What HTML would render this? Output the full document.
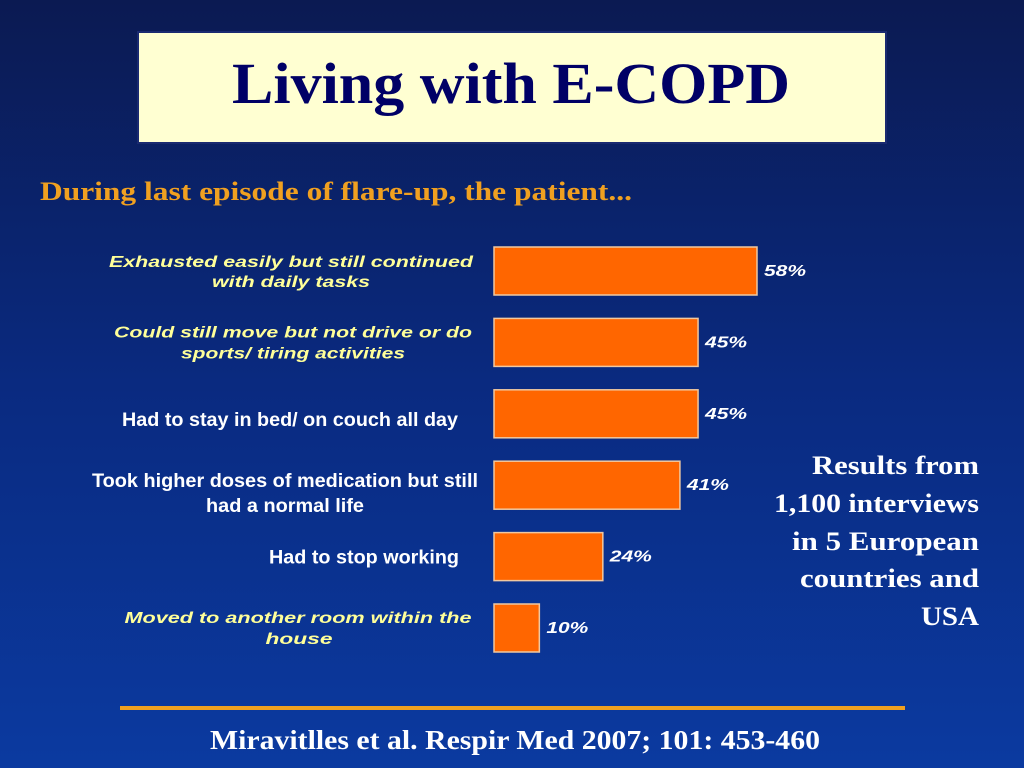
<!DOCTYPE html>
<html><head><meta charset="utf-8"><style>
html,body{margin:0;padding:0;width:1024px;height:768px;overflow:hidden}
svg{display:block}
</style></head><body>
<svg id="chart" width="1024" height="768" viewBox="0 0 1024 768" xmlns="http://www.w3.org/2000/svg">
<defs>
<linearGradient id="bg" x1="0" y1="0" x2="0" y2="1">
<stop offset="0" stop-color="#0b1a52"/>
<stop offset="0.5" stop-color="#0a2a80"/>
<stop offset="1" stop-color="#0b3aa0"/>
</linearGradient>
</defs>
<rect width="1024" height="768" fill="url(#bg)"/>
<rect x="138" y="32" width="748" height="111" fill="#ffffd2" stroke="#1a2a70" stroke-width="2"/>
<text x="511" y="103" text-anchor="middle" font-family="Liberation Serif, serif" font-weight="bold" font-size="58" fill="#000066" textLength="558" lengthAdjust="spacingAndGlyphs">Living with E-COPD</text>
<text x="40" y="200" font-family="Liberation Serif, serif" font-weight="bold" font-size="26" fill="#f0a020" textLength="592" lengthAdjust="spacingAndGlyphs">During last episode of flare-up, the patient...</text>
<g id="bars"></g>
<g font-family="Liberation Serif, serif" font-weight="bold" font-size="26" fill="#ffffff" text-anchor="end">
<text x="979" y="474" textLength="167" lengthAdjust="spacingAndGlyphs">Results from</text>
<text x="979" y="512" textLength="205" lengthAdjust="spacingAndGlyphs">1,100 interviews</text>
<text x="979" y="550" textLength="187" lengthAdjust="spacingAndGlyphs">in 5 European</text>
<text x="979" y="587" textLength="179" lengthAdjust="spacingAndGlyphs">countries and</text>
<text x="979" y="625" textLength="58" lengthAdjust="spacingAndGlyphs">USA</text>
</g>
<rect x="120" y="706" width="785" height="4" fill="#f0a020"/>
<text x="515" y="749" text-anchor="middle" font-family="Liberation Serif, serif" font-weight="bold" font-size="27" fill="#ffffff" textLength="610" lengthAdjust="spacingAndGlyphs">Miravitlles et al. Respir Med 2007; 101: 453-460</text>
</svg>
<script>
const categories = [
  ["Exhausted easily but still continued","with daily tasks"],
  ["Could still move but not drive or do","sports/ tiring activities"],
  ["Had to stay in bed/ on couch all day"],
  ["Took higher doses of medication but still","had a normal life"],
  ["Had to stop working"],
  ["Moved to another room within the","house"]
];
const values = [58,45,45,41,24,10];
const valueLabels = ["58%","45%","45%","41%","24%","10%"];

// styling (not data)
const labelColors = ["#ffff99","#ffff99","#ffffff","#ffffff","#ffffff","#ffff99"];
const labelWidths = [[364,158],[358,224],[336],[386,158],[190],[347,67]];
const labelCenters = [[291,291],[293,293],[290],[285,285],[364],[298,299]];
const labelBaseOffsets = [[-4,16],[-5,16],[12],[2,27],[7],[-5,16]];
const labelItalic = [true,true,false,false,false,true];

const NS = "http://www.w3.org/2000/svg";
const g = document.getElementById('bars');
const x0 = 494, pxPer = 263/58;
const xScale = v => x0 + v*pxPer;
const yTop = i => 247 + i*71.4;
const barH = 48;
function mk(tag, attrs){const e=document.createElementNS(NS,tag);for(const k in attrs)e.setAttribute(k,attrs[k]);return e;}
values.forEach((v,i)=>{
  const y = yTop(i);
  const r = mk('rect',{x:x0,y:y,width:xScale(v)-x0,height:barH,fill:'#ff6600',stroke:'#f0c8a0','stroke-width':1.5});
  
  
  g.appendChild(r);
  const t = mk('text',{x:xScale(v)+7,y:y+barH/2+5,'font-family':'Liberation Sans, sans-serif','font-weight':'bold','font-style':'italic','font-size':16,fill:'#ffffff',textLength:42,lengthAdjust:'spacingAndGlyphs'});
  t.textContent = valueLabels[i];
  
  
  g.appendChild(t);
  const lines = categories[i];
  const cy = y + barH/2;
  lines.forEach((ln,j)=>{
    const lt = mk('text',{x:labelCenters[i][j],y:cy+labelBaseOffsets[i][j],'text-anchor':'middle','font-family':'Liberation Sans, sans-serif','font-weight':'bold','font-size':labelItalic[i]?16:19,fill:labelColors[i],textLength:labelWidths[i][j],lengthAdjust:'spacingAndGlyphs'});
    if(labelItalic[i]) lt.setAttribute('font-style','italic');
    lt.textContent = ln;
    
    
    g.appendChild(lt);
  });
});
</script>
</body></html>
